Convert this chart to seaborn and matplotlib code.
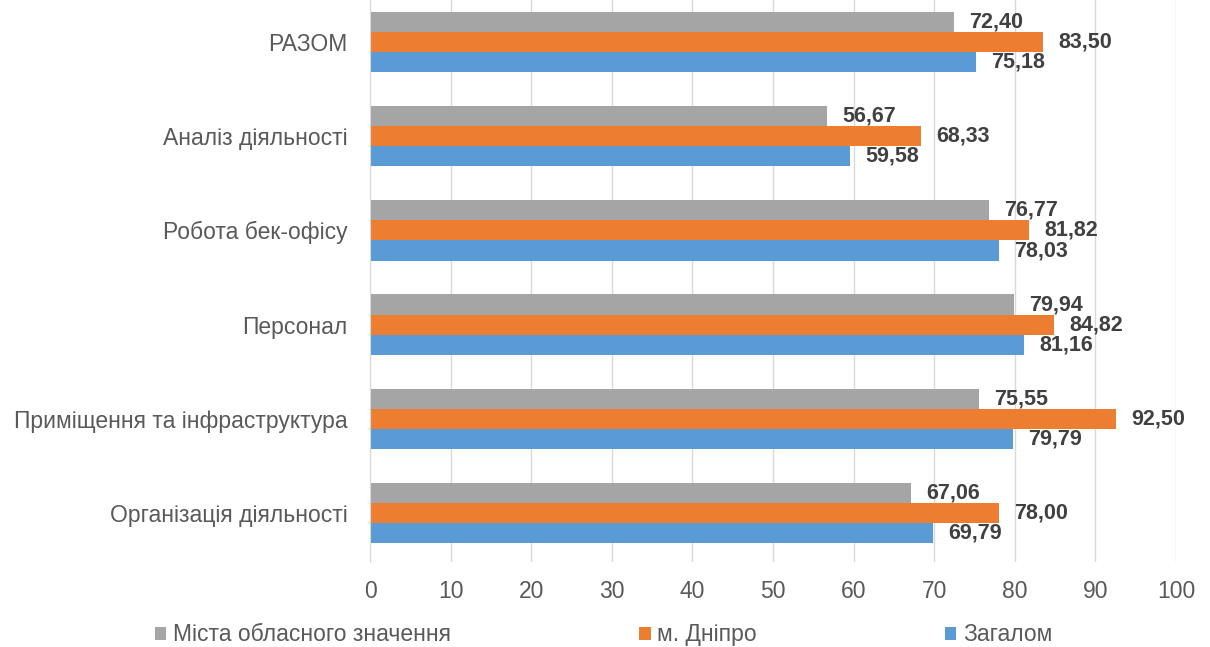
import seaborn as sns
import matplotlib.pyplot as plt
import pandas as pd

categories = ["РАЗОМ", "Аналіз діяльності", "Робота бек-офісу", "Персонал",
              "Приміщення та інфраструктура", "Організація діяльності"]
series_names = ["Міста обласного значення", "м. Дніпро", "Загалом"]
cities = [72.40, 56.67, 76.77, 79.94, 75.55, 67.06]
dnipro = [83.50, 68.33, 81.82, 84.82, 92.50, 78.00]
total = [75.18, 59.58, 78.03, 81.16, 79.79, 69.79]
x_ticks = [0, 10, 20, 30, 40, 50, 60, 70, 80, 90, 100]

colors = {"Міста обласного значення": "#A5A5A5", "м. Дніпро": "#ED7D31", "Загалом": "#5B9BD5"}

df = pd.concat([
    pd.DataFrame({"Категорія": categories, "Значення": vals, "Група": name})
    for name, vals in zip(series_names, [cities, dnipro, total])
], ignore_index=True)

sns.set_style("white")
plt.rcParams['font.family'] = ['Liberation Sans', 'DejaVu Sans']

fig = plt.figure(figsize=(12.1, 6.47), dpi=100)
ax = fig.add_axes([0.3058, 0.1314, 0.6661, 0.8686])

sns.barplot(data=df, y="Категорія", x="Значення", hue="Група", order=categories,
            hue_order=series_names, palette=colors, orient="h", width=0.64,
            saturation=1, linewidth=0, ax=ax, legend=True)

# value labels, comma as decimal separator
for cont in ax.containers:
    labels = [f"{b.get_width():.2f}".replace(".", ",") for b in cont]
    ax.bar_label(cont, labels=labels, padding=11, fontsize=15.5, fontweight="bold",
                 color="#404040")

ax.set_xlim(0, 100)
ax.set_ylim(5.52, -0.446)
ax.set_xticks(x_ticks)
ax.set_xlabel("")
ax.set_ylabel("")
ax.xaxis.grid(True, color="#D9D9D9", linewidth=1)
ax.set_axisbelow(True)
for s in ["top", "right", "bottom"]:
    ax.spines[s].set_visible(False)
ax.spines["left"].set_color("#D9D9D9")
ax.tick_params(axis="x", length=0, pad=13, labelsize=16.5, labelcolor="#595959")
ax.tick_params(axis="y", length=0, pad=16, labelsize=16.5, labelcolor="#595959")

handles, labs = ax.get_legend_handles_labels()
ax.legend_.remove()
fig.legend(handles, labs, loc="center", bbox_to_anchor=(0.499, 0.019), ncol=3,
           frameon=False, fontsize=16.5, handlelength=0.5, handleheight=0.5,
           handletextpad=0.3, columnspacing=8.2, labelcolor="#595959")

fig.savefig("out.png", dpi=100)
